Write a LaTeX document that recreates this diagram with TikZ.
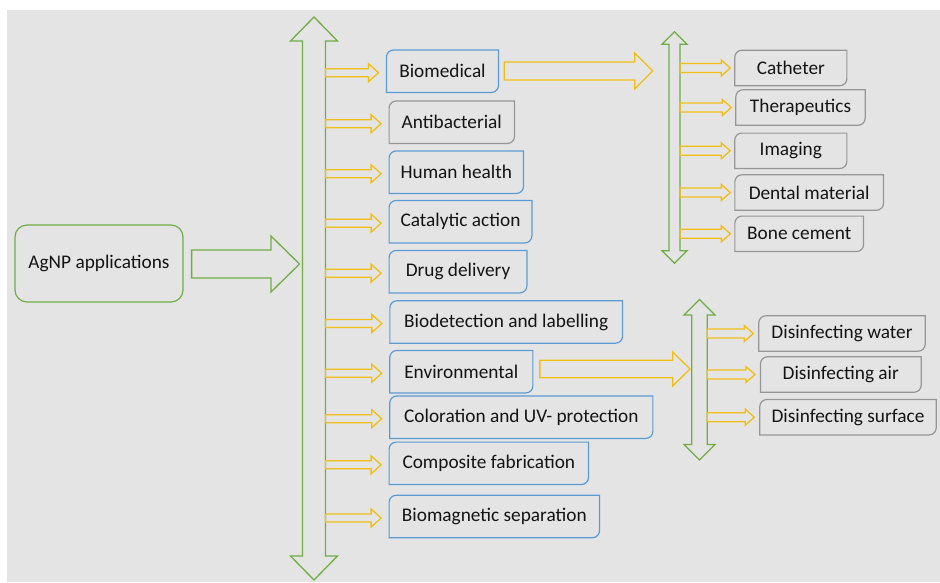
\documentclass[tikz,border=0pt]{standalone}
\usepackage{fontspec}
\setmainfont{Carlito}
\usetikzlibrary{calc, positioning}
\definecolor{agnpgreen}{RGB}{112,173,71}
\definecolor{boxblue}{RGB}{91,155,213}
\definecolor{boxgray}{RGB}{150,150,150}
\definecolor{gold}{RGB}{242,190,20}
\definecolor{bggray}{RGB}{228,228,228}
\definecolor{ink}{RGB}{20,20,20}
\tikzset{every node/.style={font=\fontsize{19.3}{23}\selectfont, text=ink, inner sep=0pt},
  mainbox/.style={minimum height=42pt},
  subbox/.style={minimum height=35pt},
  yellowarrow/.style={draw=gold, line width=1.3pt},
  greenarrow/.style={draw=agnpgreen, line width=1.3pt}}
% box with two rounded corners (top left, bottom right)
\newcommand{\diagframe}[2]{%
  \draw[#2, line width=1.2pt] (#1.west) [rounded corners=7pt] -- (#1.north west) -- (#1.north)
    [sharp corners] -- (#1.north east) -- (#1.east) [rounded corners=7pt] -- (#1.south east)
    -- (#1.south) [sharp corners] -- (#1.south west) -- cycle;}
% block arrow: style, start (x), end (x and y), shaft half, head half, head length
\newcommand{\harrow}[6]{%
  \draw[#1] let \p1=(#2), \p2=(#3) in
    (\x1,\y2+#4) -- (\x2-#6,\y2+#4) -- (\x2-#6,\y2+#5) -- (\x2,\y2)
    -- (\x2-#6,\y2-#5) -- (\x2-#6,\y2-#4) -- (\x1,\y2-#4) -- cycle;}
% vertical double block arrow: style, top tip, bottom tip, shaft half, head half, head length
\newcommand{\vdarrow}[6]{%
  \draw[#1] let \p1=(#2), \p2=(#3) in
    (\x1,\y1) -- (\x1+#5,\y1-#6) -- (\x1+#4,\y1-#6) -- (\x1+#4,\y2+#6) -- (\x1+#5,\y2+#6)
    -- (\x1,\y2) -- (\x1-#5,\y2+#6) -- (\x1-#4,\y2+#6) -- (\x1-#4,\y1-#6) -- (\x1-#5,\y1-#6) -- cycle;}

\begin{document}
\begin{tikzpicture}[x=1pt, y=-1pt]
  \useasboundingbox (0,0) rectangle (940,582);
  \fill[bggray] (7,10) rectangle (940,582);

  \node[draw=agnpgreen, line width=1.2pt, rounded corners=12pt, minimum width=168pt, minimum height=77pt] (agnp) at (99,263.5) {AgNP applications};

  \node[mainbox, minimum width=111.6pt] (biomedical) at (442.5,71.2) {Biomedical};
  \node[mainbox, minimum width=125pt] (antibacterial) at (451.8,122.2) {Antibacterial};
  \node[mainbox, minimum width=134pt] (human_health) at (456.3,172.2) {Human health};
  \node[mainbox, minimum width=142.4pt] (catalytic) at (460.5,221.7) {Catalytic action};
  \node[mainbox, minimum width=137.4pt] (drug_delivery) at (458,271.7) {Drug delivery};
  \node[mainbox, minimum width=232.3pt] (biodetection) at (506.2,322) {Biodetection and labelling};
  \node[mainbox, minimum width=142.7pt] (environmental) at (461.3,371.7) {Environmental};
  \node[mainbox, minimum width=262.7pt] (coloration) at (521.3,417.2) {Coloration and UV- protection};
  \node[mainbox, minimum width=199pt] (composite) at (488.8,463.3) {Composite fabrication};
  \node[mainbox, minimum width=210pt] (biomagnetic) at (494.3,516.5) {Biomagnetic separation};

  \node[subbox, minimum width=111.7pt] (catheter) at (790.8,68) {Catheter};
  \node[subbox, minimum width=129pt] (therapeutics) at (800.5,107.5) {Therapeutics};
  \node[subbox, minimum width=111.7pt] (imaging) at (790.8,150.8) {Imaging};
  \node[subbox, minimum width=148.3pt] (dental) at (809.2,192.5) {Dental material};
  \node[subbox, minimum width=128.3pt] (bone_cement) at (799.2,233.8) {Bone cement};

  \node[subbox, minimum width=166pt] (dis_water) at (842,333.5) {Disinfecting water};
  \node[subbox, minimum width=160.3pt] (dis_air) at (840.8,374.5) {Disinfecting air};
  \node[subbox, minimum width=176pt] (dis_surface) at (848,417.2) {Disinfecting surface};

  \foreach \b in {biomedical, human_health, catalytic, drug_delivery, biodetection,
                  environmental, coloration, composite, biomagnetic}
    \diagframe{\b}{boxblue};
  \foreach \b in {antibacterial, catheter, therapeutics, imaging, dental, bone_cement,
                  dis_water, dis_air, dis_surface}
    \diagframe{\b}{boxgray};

  % the three vertical double arrows
  \coordinate (main_top) at (314,17);
  \coordinate (main_bot) at (314,580);
  \coordinate (bio_top) at (674.5,31.7);
  \coordinate (bio_bot) at (674.5,263.3);
  \coordinate (env_top) at (699.5,299.5);
  \coordinate (env_bot) at (699.5,460);
  \vdarrow{greenarrow}{main_top}{main_bot}{11.5}{23.5}{24}
  \vdarrow{greenarrow}{bio_top}{bio_bot}{5.5}{12.5}{12.5}
  \vdarrow{greenarrow}{env_top}{env_bot}{7.8}{15.5}{15.5}

  \coordinate (main_in) at (299.5,264);
  \coordinate (main_rail) at (325.5,0);
  \coordinate (bio_in) at (652.7,71);
  \coordinate (bio_rail) at (680,0);
  \coordinate (env_in) at (690,369);
  \coordinate (env_rail) at (707.3,0);

  \harrow{greenarrow}{[xshift=8pt]agnp.east}{main_in}{14}{28}{28.5}
  \harrow{yellowarrow}{[xshift=5.7pt]biomedical.east}{bio_in}{9}{18}{18}
  \harrow{yellowarrow}{[xshift=7pt]environmental.east}{env_in}{8.7}{17}{17.3}

  \foreach \b in {biomedical, antibacterial, human_health, catalytic, drug_delivery,
                  biodetection, environmental, coloration, composite, biomagnetic}
    \harrow{yellowarrow}{main_rail}{[xshift=-8pt, yshift=-1.5pt]\b.west}{4}{9}{10};
  \foreach \b in {catheter, therapeutics, imaging, dental, bone_cement}
    \harrow{yellowarrow}{bio_rail}{[xshift=-4.5pt]\b.west}{4.5}{8}{9};
  \foreach \b in {dis_water, dis_air, dis_surface}
    \harrow{yellowarrow}{env_rail}{[xshift=-5.5pt]\b.west}{4.5}{8}{9};
\end{tikzpicture}
\end{document}
